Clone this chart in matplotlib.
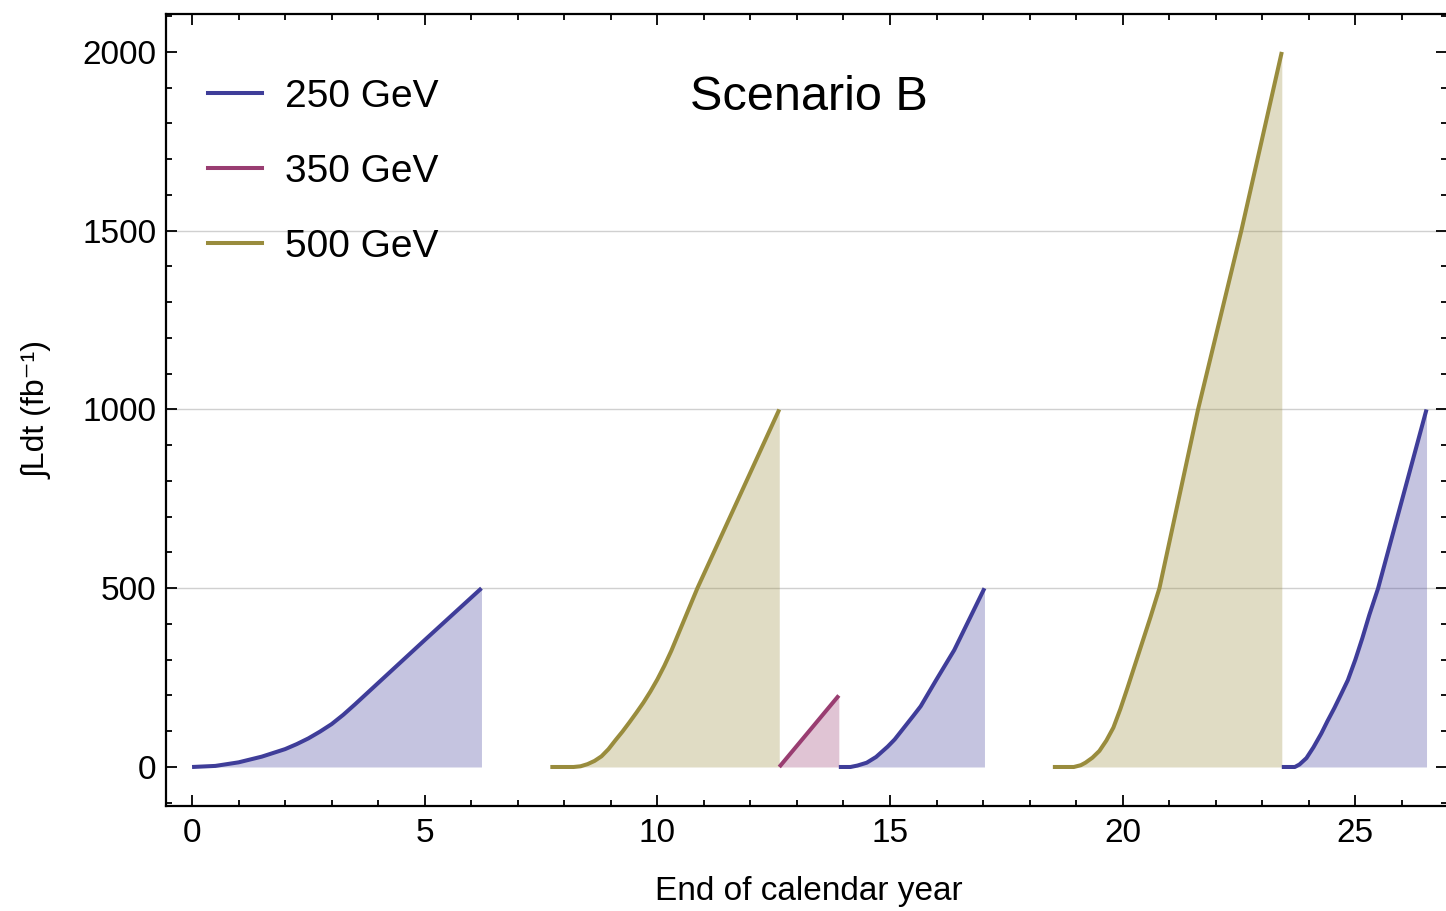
import matplotlib
matplotlib.use("Agg")
import matplotlib.pyplot as plt
from matplotlib.ticker import MultipleLocator

plt.rcParams['font.family'] = ['Liberation Sans', 'DejaVu Sans']

# integrated luminosity per run (x: years, y: fb^-1)
run1_250_x = [0.0, 0.5, 1.0, 1.5, 2.0, 2.25, 2.5, 2.75, 3.0, 3.25, 3.5, 4.0, 5.0, 6.22]
run1_250_y = [0, 3, 13, 29, 50, 64, 80, 99, 120, 146, 175, 235, 355, 500]

run2_500_x = [7.7, 8.2, 8.35, 8.5, 8.65, 8.8, 8.95, 9.1, 9.25, 9.4, 9.55, 9.7, 9.85,
              10.0, 10.15, 10.3, 10.86, 12.62]
run2_500_y = [0, 0, 2, 8, 17, 30, 50, 75, 99, 125, 152, 180, 211,
              245, 283, 325, 500, 1000]

run3_350_x = [12.62, 13.9]
run3_350_y = [0, 200]

run4_250_x = [13.9, 14.15, 14.3, 14.5, 14.7, 14.95, 15.1, 15.3, 15.5, 15.66,
              16.0, 16.38, 17.03]
run4_250_y = [0, 0, 4, 12, 28, 57, 77, 110, 143, 170, 245, 327, 500]

run5_500_x = [18.5, 18.95, 19.1, 19.2, 19.35, 19.5, 19.65, 19.8, 19.95, 20.1,
              20.25, 20.4, 20.6, 20.79, 21.62, 22.55, 23.42]
run5_500_y = [0, 0, 5, 12, 26, 45, 74, 110, 162, 220, 280, 340, 420, 500,
              1000, 1500, 2000]

run6_250_x = [23.42, 23.7, 23.8, 23.95, 24.1, 24.27, 24.4, 24.55, 24.7, 24.84,
              25.0, 25.15, 25.3, 25.49, 26.53]
run6_250_y = [0, 0, 7, 25, 55, 94, 128, 165, 205, 243, 300, 360, 425, 500, 1000]

energies = ['250 GeV', '350 GeV', '500 GeV']
colors = {'250 GeV': '#3f3d99', '350 GeV': '#993d71', '500 GeV': '#998c3d'}

runs = [
    (run1_250_x, run1_250_y, '250 GeV'),
    (run2_500_x, run2_500_y, '500 GeV'),
    (run3_350_x, run3_350_y, '350 GeV'),
    (run4_250_x, run4_250_y, '250 GeV'),
    (run5_500_x, run5_500_y, '500 GeV'),
    (run6_250_x, run6_250_y, '250 GeV'),
]

fig = plt.figure(figsize=(14.46, 9.11), dpi=100)
ax = fig.add_axes([0.1148, 0.1153, 0.8862, 0.8693])

for gy in [500, 1000, 1500]:
    ax.axhline(gy, color='#d0d0d0', linewidth=1.0, zorder=0)

for xs, ys, energy in runs:
    c = colors[energy]
    ax.fill_between(xs, 0, ys, color=c, alpha=0.3, linewidth=0, zorder=1)
    ax.plot(xs, ys, color=c, linewidth=2.9, solid_capstyle='butt',
            solid_joinstyle='round', zorder=2)

# legend handles
handles = [plt.Line2D([], [], color=colors[e], linewidth=2.9) for e in energies]
ax.legend(handles, energies, loc='upper left',
          bbox_to_anchor=(0.0328, 0.918), borderaxespad=0, borderpad=0,
          frameon=False, fontsize=28, handlelength=1.39,
          handletextpad=0.6, labelspacing=1.0)

ax.text(0.5016, 0.895, 'Scenario B', transform=ax.transAxes,
        ha='center', va='center', fontsize=35)

ax.set_xlim(-0.56, 26.98)
ax.set_ylim(-109, 2106)

ax.xaxis.set_major_locator(MultipleLocator(5))
ax.xaxis.set_minor_locator(MultipleLocator(1))
ax.yaxis.set_major_locator(MultipleLocator(500))
ax.yaxis.set_minor_locator(MultipleLocator(100))

ax.tick_params(which='both', direction='in', top=True, right=True,
               width=1.3, labelsize=24, colors='black')
ax.tick_params(which='major', length=8)
ax.tick_params(which='minor', length=4)
ax.tick_params(axis='x', pad=9)
ax.tick_params(axis='y', pad=7)

for sp in ax.spines.values():
    sp.set_linewidth(1.6)

ax.set_xlabel('End of calendar year', fontsize=24)
ax.xaxis.set_label_coords(0.5016, -0.108)
ax.xaxis.label.set_va('center')

ax.set_ylabel('\u222bLdt (fb\u207b\u00b9)', fontsize=23)
ax.yaxis.set_label_coords(-0.1, 0.5)
ax.yaxis.label.set_va('center')

fig.savefig('out.png', dpi=100)
